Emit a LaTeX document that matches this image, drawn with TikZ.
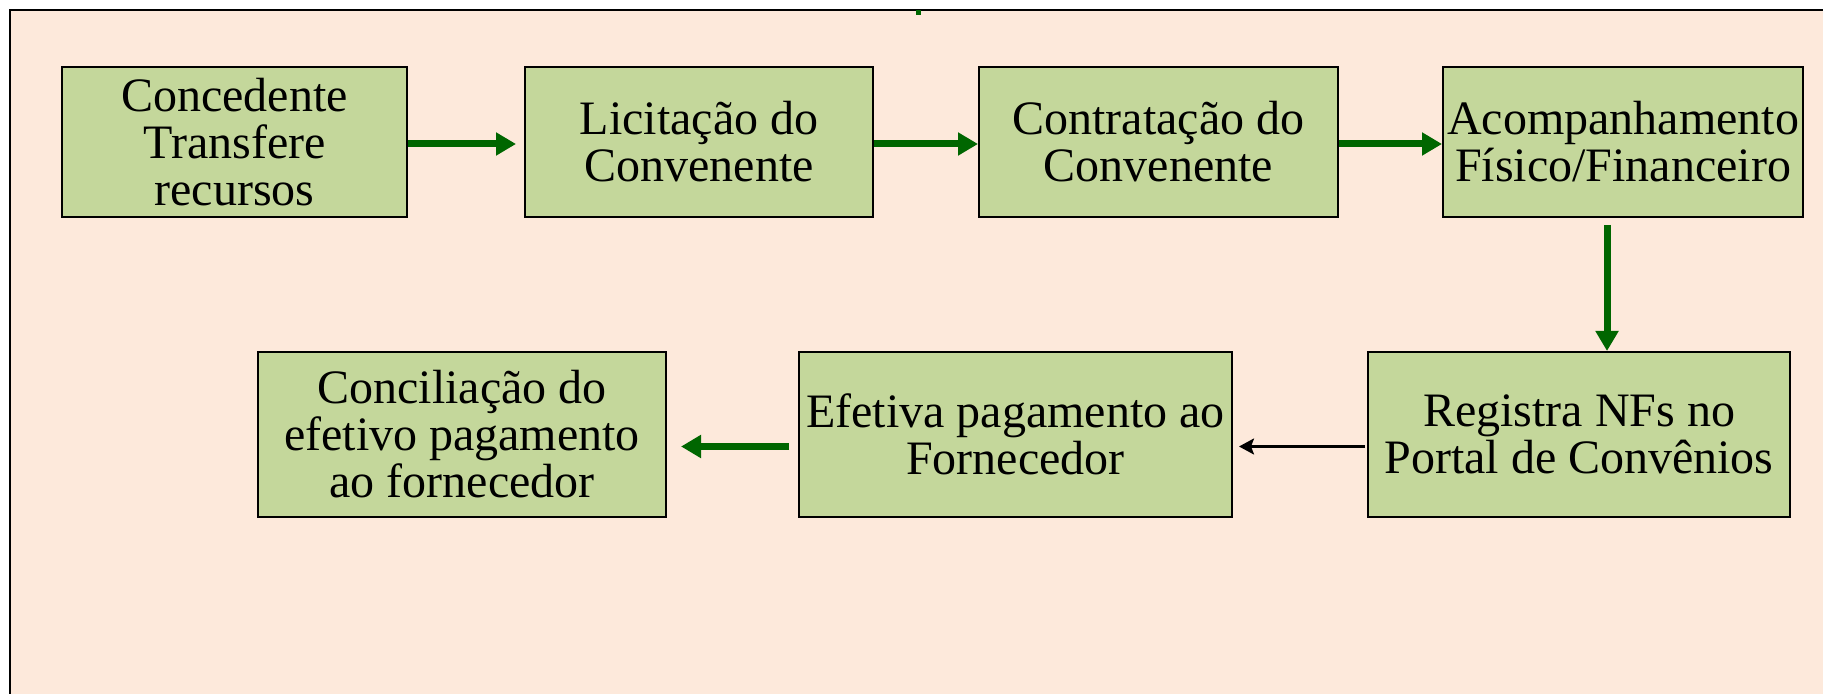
\documentclass[tikz,border=0pt]{standalone}
\usepackage{fontspec}
\setmainfont{Liberation Serif}
\usetikzlibrary{arrows.meta}
\definecolor{bgpeach}{HTML}{FDE9DB}
\definecolor{boxgreen}{HTML}{C4D79B}
\definecolor{arrowgreen}{HTML}{006600}
\tikzset{
  stagebox/.style={draw=black, line width=1pt, fill=boxgreen, align=center,
    inner sep=0pt, font=\fontsize{24}{23.5}\selectfont},
  garrow/.style={draw=arrowgreen, line width=3.5pt, -{Triangle[length=10pt,width=11pt]}},
  karrow/.style={draw=black, line width=1.2pt, -{Stealth[length=7.5pt,width=8pt,inset=1.5pt]}}
}
\begin{document}
\begin{tikzpicture}[x=0.5pt,y=-0.5pt]
\useasboundingbox (0,0) rectangle (1823,694);
% frame
\fill[bgpeach] (10,10) rectangle (1823,694);
\draw[line width=1pt] (1823,10) -- (10,10) -- (10,694);
\fill[arrowgreen] (916,10) rectangle (921,15);

% first row
\node[stagebox, minimum width=172.5pt, minimum height=75pt] (conc) at (234.5,142) {Concedente\\Transfere\\recursos};
\node[stagebox, minimum width=174pt, minimum height=75pt] (licit) at (699,142) {Licitação do\\Convenente};
\node[stagebox, minimum width=179.5pt, minimum height=75pt] (contr) at (1158.5,142) {Contratação do\\Convenente};
\node[stagebox, minimum width=180pt, minimum height=75pt] (acomp) at (1623,142) {Acompanhamento\\Físico/Financeiro};

% second row
\node[stagebox, minimum width=211pt, minimum height=82.5pt] (regis) at (1579,434.5) {Registra NFs no\\Portal de Convênios};
\node[stagebox, minimum width=216.5pt, minimum height=82.5pt] (efet) at (1015.5,434.5) {Efetiva pagamento ao\\Fornecedor};
\node[stagebox, minimum width=204pt, minimum height=82.5pt] (concil) at (462,434.5) {Conciliação do\\efetivo pagamento\\ao fornecedor};

% connectors
\draw[garrow, shorten >=4pt] ([yshift=-1pt]conc.east) -- ([yshift=-1pt]licit.west);
\draw[garrow] ([yshift=-1pt]licit.east) -- ([yshift=-1pt]contr.west);
\draw[garrow] ([yshift=-1pt]contr.east) -- ([yshift=-1pt]acomp.west);
\draw[garrow, shorten <=3.5pt] ([xshift=-8pt]acomp.south) -- ([xshift=-8pt]acomp.south |- regis.north);
\draw[karrow, shorten <=1pt, shorten >=3pt] ([yshift=-6pt]regis.west) -- ([yshift=-6pt]efet.east);
\draw[garrow, shorten <=4.5pt, shorten >=7pt] ([yshift=-6pt]efet.west) -- ([yshift=-6pt]concil.east);
\end{tikzpicture}
\end{document}
